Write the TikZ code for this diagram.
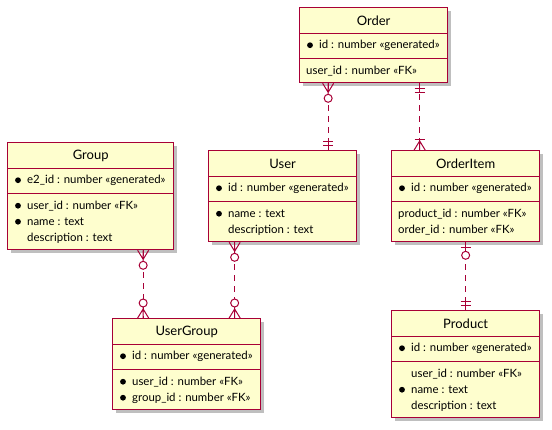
\documentclass[tikz,border=0pt]{standalone}
\usepackage{fontspec}
\setmainfont{Lato}
\usetikzlibrary{calc,shadows}
\definecolor{umlred}{HTML}{A80036}
\definecolor{umlfill}{HTML}{FEFECE}
\tikzset{%
  entity/.style={draw=umlred,fill=umlfill,line width=1.3pt,inner sep=0pt,anchor=north west,
    drop shadow={shadow xshift=3.5pt,shadow yshift=-3.5pt,fill=black,opacity=0.25}},
  rowsep/.style={draw=umlred,line width=1pt},
  title/.style={font=\fontsize{13}{15}\selectfont,inner sep=0pt},
  field/.style={font=\fontsize{11.4}{14}\selectfont,inner sep=0pt,anchor=west,
    text height=8.5pt,text depth=2.5pt},
  rel/.style={draw=umlred,line width=1pt,dash pattern=on 6pt off 5pt},
  endline/.style={draw=umlred,line width=1pt}
}
% entity box: name, top left, width, title, lines below the key
\NewDocumentCommand\entity{mmmmm}{%
  \pgfmathsetmacro\entH{59+16*#5}
  \node[entity,minimum width=#3,minimum height=\entH] (#1) at (#2) {};
  \node[title] (#1-title) at ($(#1.north)+(0,13.5)$) {#4};
  \draw[rowsep] ($(#1.north west)+(0,26.5)$) -- ($(#1.north east)+(0,26.5)$);
  \draw[rowsep] ($(#1.north west)+(0,51)$) -- ($(#1.north east)+(0,51)$);
}
% one attribute line: * = key bullet, entity, row (0 = key), indent, text
\NewDocumentCommand\attr{smmmm}{%
  \pgfmathsetmacro\rowY{#3==0 ? 38.5 : 48+16*#3}
  \node[field] (#2-r#3) at ($(#2.north west)+(#4,\rowY)$) {#5};
  \IfBooleanT{#1}{\fill ($(#2.north west)+(11,\rowY-0.3)$) circle[radius=2.9];}
}
% relation ends: point on the box, 1 = going down, -1 = going up
\NewDocumentCommand\zeroMany{mm}{%
  \begin{scope}[shift={(#1)},yscale=#2]
    \draw[endline] (-5.5,0) -- (0,9) -- (5.5,0) (0,0) -- (0,11);
    \draw[endline,fill=white] (0,15) circle[radius=4];
  \end{scope}}
\NewDocumentCommand\oneMany{mm}{%
  \begin{scope}[shift={(#1)},yscale=#2]
    \draw[endline] (-5.5,0) -- (0,9) -- (5.5,0) (0,0) -- (0,11);
    \draw[endline] (-5,11) -- (5,11);
  \end{scope}}
\NewDocumentCommand\onlyOne{mm}{%
  \begin{scope}[shift={(#1)},yscale=#2]
    \draw[endline] (0,0) -- (0,9) (-5,5) -- (5,5) (-5,9) -- (5,9);
  \end{scope}}
\NewDocumentCommand\zeroOne{mm}{%
  \begin{scope}[shift={(#1)},yscale=#2]
    \draw[endline] (0,0) -- (0,9) (-5,5) -- (5,5);
    \draw[endline,fill=white] (0,13) circle[radius=4];
  \end{scope}}

\begin{document}
\begin{tikzpicture}[x=1pt,y=-1pt]
  \useasboundingbox (0,0) rectangle (552,429);
  % Order
  \entity{order}{299,7}{148}{Order}{1}
  \attr*{order}{0}{20}{id : number «generated»}
  \attr{order}{1}{7}{user\_id : number «FK»}
  % Group
  \entity{group}{7,142}{166}{Group}{3}
  \attr*{group}{0}{20}{e2\_id : number «generated»}
  \attr*{group}{1}{20}{user\_id : number «FK»}
  \attr*{group}{2}{20}{name : text}
  \attr{group}{3}{20}{description : text}
  % User
  \entity{user}{208,150}{148}{User}{2}
  \attr*{user}{0}{20}{id : number «generated»}
  \attr*{user}{1}{20}{name : text}
  \attr{user}{2}{20}{description : text}
  % OrderItem
  \entity{orderitem}{391,150}{148}{OrderItem}{2}
  \attr*{orderitem}{0}{20}{id : number «generated»}
  \attr{orderitem}{1}{7}{product\_id : number «FK»}
  \attr{orderitem}{2}{7}{order\_id : number «FK»}
  % UserGroup
  \entity{usergroup}{112,318}{148}{UserGroup}{2}
  \attr*{usergroup}{0}{20}{id : number «generated»}
  \attr*{usergroup}{1}{20}{user\_id : number «FK»}
  \attr*{usergroup}{2}{20}{group\_id : number «FK»}
  % Product
  \entity{product}{391,310}{148}{Product}{3}
  \attr*{product}{0}{20}{id : number «generated»}
  \attr{product}{1}{20}{user\_id : number «FK»}
  \attr*{product}{2}{20}{name : text}
  \attr{product}{3}{20}{description : text}
  % Relations
  \coordinate (ou) at ($(order.south west)!0.5!(user.north east)$);
  \coordinate (oi) at ($(orderitem.north west)!0.5!(order.south east)$);
  \coordinate (gu) at ($(usergroup.north west)!0.5!(group.south east)$);
  \coordinate (uu) at ($(user.south west)!0.5!(usergroup.north east)$);
  \draw[rel] (ou |- order.south) -- (ou |- user.north);
  \draw[rel] (oi |- order.south) -- (oi |- orderitem.north);
  \draw[rel] (gu |- group.south) -- (gu |- usergroup.north);
  \draw[rel] (uu |- user.south) -- (uu |- usergroup.north);
  \draw[rel] (orderitem.south) -- (product.north);
  \zeroMany{ou |- order.south}{1}
  \onlyOne{ou |- user.north}{-1}
  \onlyOne{oi |- order.south}{1}
  \oneMany{oi |- orderitem.north}{-1}
  \zeroMany{gu |- group.south}{1}
  \zeroMany{gu |- usergroup.north}{-1}
  \zeroMany{uu |- user.south}{1}
  \zeroMany{uu |- usergroup.north}{-1}
  \zeroOne{orderitem.south}{1}
  \onlyOne{product.north}{-1}
\end{tikzpicture}
\end{document}
